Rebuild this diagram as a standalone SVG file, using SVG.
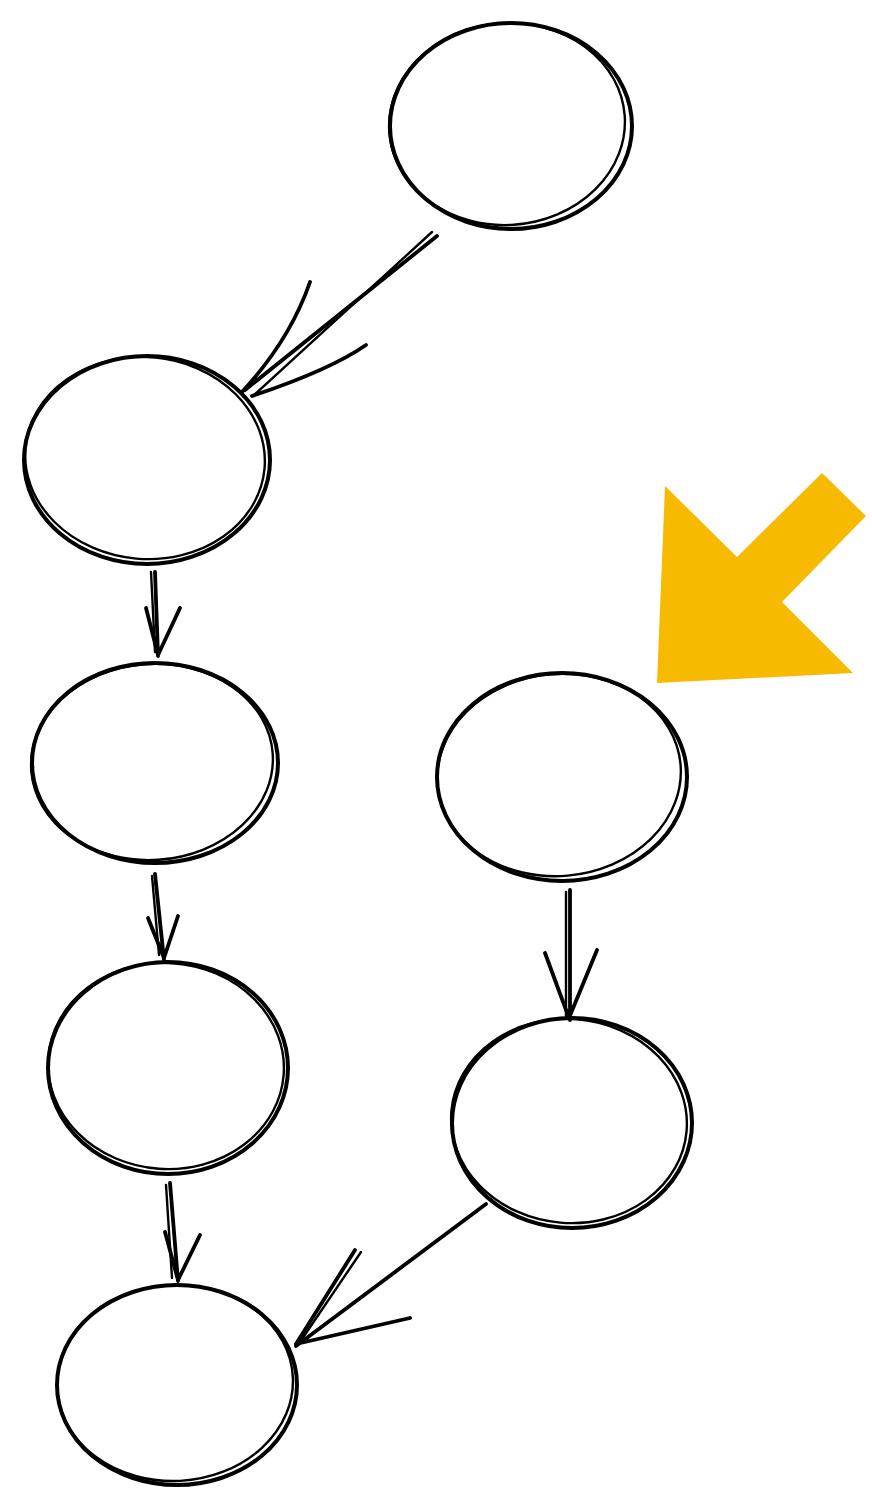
<svg xmlns="http://www.w3.org/2000/svg" width="872" height="1500" viewBox="0 0 872 1500">
<style>
.n{fill:none;stroke:#000;stroke-width:4;stroke-linecap:round}
.n2{fill:none;stroke:#000;stroke-width:2.4;stroke-linecap:round}
.c{fill:none;stroke:#000;stroke-width:3.8;stroke-linecap:round;stroke-linejoin:round}
.c2{fill:none;stroke:#000;stroke-width:2.4;stroke-linecap:round}
</style>
<rect width="872" height="1500" fill="#fff"/>
<g id="node1"><ellipse class="n" cx="511" cy="126" rx="121" ry="103"/><ellipse class="n2" cx="507" cy="124" rx="118" ry="101" transform="rotate(-4 507 124)"/></g>
<g id="node2"><ellipse class="n" cx="147" cy="460" rx="123" ry="104"/><ellipse class="n2" cx="145" cy="458" rx="120" ry="101" transform="rotate(5 145 458)"/></g>
<g id="node3"><ellipse class="n" cx="155" cy="763" rx="123" ry="100"/><ellipse class="n2" cx="152" cy="762" rx="121" ry="98" transform="rotate(-4 152 762)"/></g>
<g id="node4"><ellipse class="n" cx="168" cy="1068" rx="120" ry="106"/><ellipse class="n2" cx="166" cy="1066" rx="118" ry="103" transform="rotate(4 166 1066)"/></g>
<g id="node5"><ellipse class="n" cx="177" cy="1385" rx="120" ry="100"/><ellipse class="n2" cx="175" cy="1383" rx="118" ry="98" transform="rotate(-3 175 1383)"/></g>
<g id="node6"><ellipse class="n" cx="562" cy="777" rx="125" ry="104"/><ellipse class="n2" cx="559" cy="775" rx="122" ry="101" transform="rotate(-5 559 775)"/></g>
<g id="node7"><ellipse class="n" cx="572" cy="1123" rx="120" ry="105"/><ellipse class="n2" cx="569" cy="1121" rx="118" ry="102" transform="rotate(5 569 1121)"/></g>
<g id="connectors">
<path class="c" d="M437 236 L245 390 M310 282 Q290 340 242 392 M366 345 Q330 370 252 396"/>
<path class="c2" d="M432 232 L253 396"/>
<path class="c" d="M155 572 L158 656 M146 608 L158 655 L180 608"/>
<path class="c2" d="M151 572 L155 652"/>
<path class="c" d="M155 874 L164 960 M148 918 L164 958 L178 916"/>
<path class="c2" d="M152 876 L159 955"/>
<path class="c" d="M170 1183 L178 1281 M165 1232 L178 1280 L200 1235"/>
<path class="c2" d="M166 1185 L172 1278"/>
<path class="c" d="M570 890 L570 1020 M545 953 L569 1018 L597 950"/>
<path class="c2" d="M566 892 L566 1016"/>
<path class="c" d="M486 1204 L296 1346 M355 1250 L296 1344 L410 1318"/>
<path class="c2" d="M361 1252 L300 1342"/>
</g>
<polygon id="pointer" fill="#F8BA00" points="665,486 737,557 822,473 866,516 782,602 853,673 657,683"/>
</svg>
